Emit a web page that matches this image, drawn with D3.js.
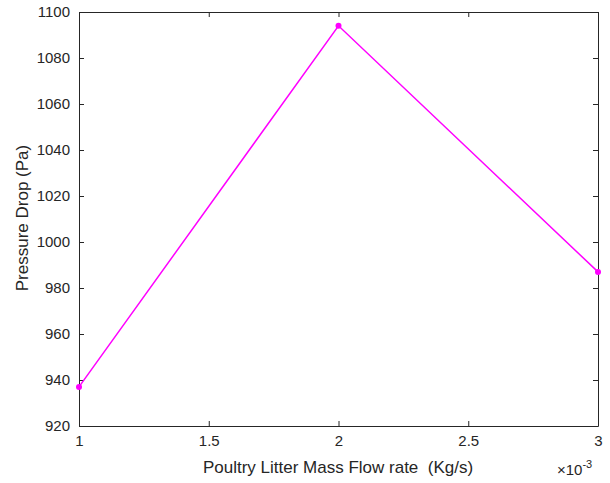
<!DOCTYPE html>
<meta charset="utf-8">
<title>Pressure Drop vs Poultry Litter Mass Flow rate</title>
<style>
body { margin: 0; background: white; }
svg { font-family: "Liberation Sans", Arial, sans-serif; }
.axis text { fill: #262626; font-size: 15px; }
.axis line, .axis path { stroke: #262626; stroke-width: 1px; }
</style>
<body>
<script src="https://d3js.org/d3.v7.min.js"></script>
<script>
// data, x in units of 1e-3 Kg/s
const flowRate = [1, 2, 3];
const pressureDrop = [937, 1094, 987];
const xTicks = [1, 1.5, 2, 2.5, 3];
const yTicks = [920, 940, 960, 980, 1000, 1020, 1040, 1060, 1080, 1100];

const W = 610, H = 483;
const margin = {top: 12, right: 12, bottom: 57, left: 79};
const width = W - margin.left - margin.right,
      height = H - margin.top - margin.bottom;

const svg = d3.select("body").append("svg")
    .attr("width", W).attr("height", H);
const g = svg.append("g")
    .attr("transform", "translate(" + margin.left + "," + margin.top + ")");

const x = d3.scaleLinear().domain([1, 3]).range([0, width]);
const y = d3.scaleLinear().domain([920, 1100]).range([height, 0]);

// box with inward ticks, MATLAB style
g.append("g").attr("class", "axis")
  .attr("transform", "translate(0," + height + ")")
  .call(d3.axisBottom(x).tickValues(xTicks).tickSizeInner(-5).tickSizeOuter(0).tickPadding(9).tickFormat(d3.format("")));
g.append("g").attr("class", "axis")
  .call(d3.axisTop(x).tickValues(xTicks).tickSizeInner(-5).tickSizeOuter(0).tickFormat(""));
g.append("g").attr("class", "axis")
  .call(d3.axisLeft(y).tickValues(yTicks).tickSizeInner(-5).tickSizeOuter(0).tickPadding(9).tickFormat(d3.format("")));
g.append("g").attr("class", "axis")
  .attr("transform", "translate(" + width + ",0)")
  .call(d3.axisRight(y).tickValues(yTicks).tickSizeInner(-5).tickSizeOuter(0).tickFormat(""));

const pts = flowRate.map((d, i) => [d, pressureDrop[i]]);

g.append("path")
  .datum(pts)
  .attr("fill", "none")
  .attr("stroke", "#ff00ff")
  .attr("stroke-width", 1.5)
  .attr("d", d3.line().x(d => x(d[0])).y(d => y(d[1])));

g.selectAll("circle.pt")
  .data(pts)
  .enter().append("circle")
  .attr("class", "pt")
  .attr("cx", d => x(d[0]))
  .attr("cy", d => y(d[1]))
  .attr("r", 3)
  .attr("fill", "#ff00ff");

// labels
svg.append("text")
  .attr("x", 338)
  .attr("y", 473)
  .attr("text-anchor", "middle")
  .attr("fill", "#262626")
  .style("font-size", "17px")
  .style("white-space", "pre")
  .text("Poultry Litter Mass Flow rate  (Kg/s)");

svg.append("text")
  .attr("transform", "translate(28,218) rotate(-90)")
  .attr("text-anchor", "middle")
  .attr("fill", "#262626")
  .style("font-size", "17px")
  .text("Pressure Drop (Pa)");

const ex = svg.append("text")
  .attr("x", 557)
  .attr("y", 475)
  .attr("fill", "#262626")
  .style("font-size", "15px");
ex.append("tspan").text("\u00d710");
ex.append("tspan").attr("dy", -7).style("font-size", "11px").text("-3");
</script>
</body>
